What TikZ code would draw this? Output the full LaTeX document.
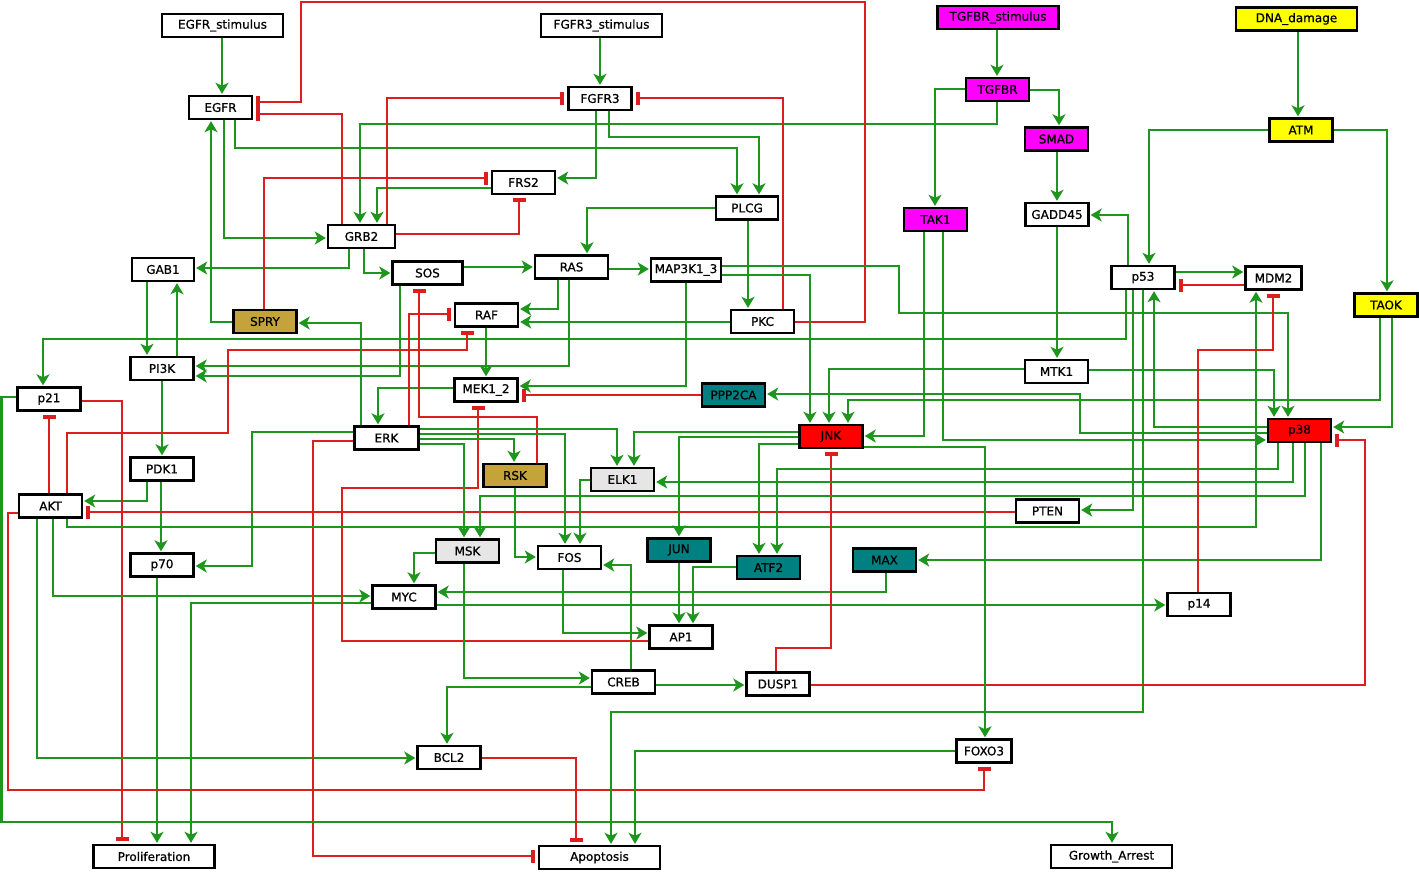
\documentclass[tikz,border=0pt]{standalone}
\usepackage{fontspec}
\setmainfont{DejaVu Sans}
\newfontfamily\nodefont{DejaVu Sans}[FakeBold=0.8]
\usetikzlibrary{arrows.meta}
\definecolor{eg}{RGB}{30,150,30}
\definecolor{er}{RGB}{220,30,30}
\definecolor{mag}{RGB}{255,0,255}
\definecolor{yel}{RGB}{255,255,0}
\definecolor{olv}{RGB}{196,164,58}
\definecolor{tea}{RGB}{0,128,128}
\definecolor{lgr}{RGB}{230,230,230}
\definecolor{rd}{RGB}{255,0,0}
\pgfdeclarelayer{background}
\pgfsetlayers{background,main}
\begin{document}
\begin{tikzpicture}[x=1pt,y=-1pt,
 nd/.style={draw=black,line width=2.4pt,minimum width=63pt,minimum height=23pt,inner sep=0pt,font=\nodefont\fontsize{12}{14}\selectfont,fill=white},
 wide/.style={minimum width=121pt},
 act/.style={draw=eg,line width=2.8pt,-{Stealth[length=11pt,width=13pt,inset=3pt]},shorten >=1pt},
 inh/.style={draw=er,line width=2.8pt,-{Rectangle[length=4pt,width=13pt]},shorten >=3pt},
]
\useasboundingbox (0,0) rectangle (1419,871);

\node[nd,wide] (EGFRs) at (222.5,25.5) {EGFR\_stimulus};
\node[nd,wide] (FGFRs) at (601.5,25.5) {FGFR3\_stimulus};
\node[nd,wide,fill=mag] (TGFBRs) at (998,17.5) {TGFBR\_stimulus};
\node[nd,wide,fill=yel] (DNA) at (1296.5,19) {DNA\_damage};
\node[nd] (EGFR) at (220.5,107.5) {EGFR};
\node[nd] (FGFR) at (600,98.5) {FGFR3};
\node[nd,fill=mag] (TGFBR) at (997.5,89.5) {TGFBR};
\node[nd,fill=yel] (ATM) at (1301,130) {ATM};
\node[nd,fill=mag] (SMAD) at (1056.5,139) {SMAD};
\node[nd] (FRS) at (523.5,182.5) {FRS2};
\node[nd,minimum width=62pt] (PLCG) at (747,208) {PLCG};
\node[nd,fill=mag] (TAK) at (935.5,219.5) {TAK1};
\node[nd] (GADD) at (1057,214.5) {GADD45};
\node[nd,minimum width=67pt] (GRB) at (361.5,236.5) {GRB2};
\node[nd,minimum width=62pt] (GAB) at (163,269.5) {GAB1};
\node[nd,minimum width=70pt] (SOS) at (427.5,273) {SOS};
\node[nd,minimum width=73pt] (RAS) at (571.5,267) {RAS};
\node[nd,minimum width=70pt] (MAPK) at (686,270) {MAP3K1\_3};
\node[nd] (p53) at (1143,277.5) {p53};
\node[nd,minimum width=56pt] (MDM) at (1273.5,278) {MDM2};
\node[nd,fill=yel] (TAOK) at (1386,305) {TAOK};
\node[nd,fill=olv] (SPRY) at (265,321.5) {SPRY};
\node[nd] (RAF) at (486.5,315) {RAF};
\node[nd] (PKC) at (762.5,321.5) {PKC};
\node[nd] (PI3K) at (162,368.5) {PI3K};
\node[nd] (MTK) at (1056.5,371.5) {MTK1};
\node[nd] (MEK) at (486,390) {MEK1\_2};
\node[nd,fill=tea] (PPP) at (733.5,395) {PPP2CA};
\node[nd] (p21) at (49,399) {p21};
\node[nd,fill=rd] (JNK) at (831,436.5) {JNK};
\node[nd,fill=rd] (p38) at (1299.5,430.5) {p38};
\node[nd,minimum width=64pt] (ERK) at (386.5,438) {ERK};
\node[nd] (PDK) at (162,469) {PDK1};
\node[nd,fill=olv] (RSK) at (515,475.5) {RSK};
\node[nd,fill=lgr] (ELK) at (622.5,479.5) {ELK1};
\node[nd] (AKT) at (50.5,506) {AKT};
\node[nd] (PTEN) at (1047.5,511) {PTEN};
\node[nd,fill=lgr] (MSK) at (467.5,551) {MSK};
\node[nd] (FOS) at (569.5,557.5) {FOS};
\node[nd,fill=tea] (JUN) at (679,550) {JUN};
\node[nd,fill=tea] (ATF) at (768.5,567.5) {ATF2};
\node[nd,fill=tea] (MAX) at (884.5,560) {MAX};
\node[nd] (p70) at (162,565) {p70};
\node[nd] (MYC) at (404,597) {MYC};
\node[nd] (p14) at (1199,604.5) {p14};
\node[nd] (AP) at (681,637) {AP1};
\node[nd] (CREB) at (623.5,682) {CREB};
\node[nd] (DUSP) at (778,684) {DUSP1};
\node[nd,minimum width=55pt] (FOXO) at (984,751) {FOXO3};
\node[nd] (BCL) at (449,757.5) {BCL2};
\node[nd,wide] (PROL) at (154,856.5) {Proliferation};
\node[nd,wide] (APOP) at (599.5,857.5) {Apoptosis};
\node[nd,wide] (GA) at (1111.5,856.5) {Growth\_Arrest};

\begin{pgfonlayer}{background}
\fill[white] (0,0) rectangle (1419,871);
% stimuli
\draw[act] (EGFRs.south -| 222,0) -- (EGFR.north -| 222,0);
\draw[act] (FGFRs.south -| 600,0) -- (FGFR.north -| 600,0);
\draw[act] (TGFBRs.south -| 997,0) -- (TGFBR.north -| 997,0);
\draw[act] (DNA.south -| 1298,0) -- (ATM.north -| 1298,0);
% TGFBR
\draw[act] (TGFBR.west |- 0,89) -| (TAK.north -| 935,0);
\draw[act] (TGFBR.east |- 0,90) -| (SMAD.north -| 1059,0);
\draw[act] (SMAD.south -| 1057,0) -- (GADD.north -| 1057,0);
\draw[act] (GADD.south -| 1057,0) -- (MTK.north -| 1057,0);
\draw[act] (TGFBR.south -| 997,0) -- (997,124) -- (360,124) -- (GRB.north -| 360,0);
% receptors
\draw[act] (FGFR.south -| 596,0) |- (FRS.east |- 0,178);
\draw[act] (FGFR.south -| 609,0) |- (759,137) -- (PLCG.north -| 759,0);
\draw[act] (EGFR.south -| 235,0) |- (737,148) -- (PLCG.north -| 737,0);
\draw[act] (EGFR.south -| 224,0) |- (GRB.west |- 0,238);
\draw[act] (FRS.west |- 0,188) -| (GRB.north -| 377,0);
\draw[inh] (GRB.east |- 0,234) -| (FRS.south -| 519,0);
\draw[inh] (GRB.north -| 387,0) |- (FGFR.west |- 0,98);
\draw[inh] (GRB.north -| 342,0) |- (EGFR.east |- 0,114);
\draw[inh] (PKC.east |- 0,322) -- (865,322) -- (865,2) -- (301,2) -- (301,102) -- (EGFR.east |- 0,102);
\draw[inh] (PKC.north -| 783,0) |- (FGFR.east |- 0,98);
\draw[act] (PLCG.south -| 748,0) -- (PKC.north -| 748,0);
\draw[act] (GRB.south -| 364,0) |- (SOS.west |- 0,273);
\draw[act] (SOS.east |- 0,267) -- (RAS.west |- 0,267);
\draw[act] (RAS.east |- 0,269) -- (MAPK.west |- 0,269);
\draw[act] (PLCG.west |- 0,208) -| (RAS.north -| 587,0);
\draw[act] (RAS.south -| 558,0) |- (RAF.east |- 0,309);
\draw[act] (RAS.south -| 569,0) |- (PI3K.east |- 0,366);
\draw[act] (SOS.south -| 400,0) |- (PI3K.east |- 0,376);
\draw[act] (RAF.south -| 486,0) -- (MEK.north -| 486,0);
\draw[act] (MAPK.south -| 686,0) |- (MEK.east |- 0,386);
\draw[act] (PKC.west |- 0,322) -- (RAF.east |- 0,322);
\draw[act] (p53.south -| 1126,0) |- (43,339) -- (p21.north -| 43,0);
\draw[act] (MEK.west |- 0,388) -| (ERK.north -| 378,0);
\draw[act] (PI3K.north -| 177,0) -- (GAB.south -| 177,0);
\draw[act] (GAB.south -| 147,0) -- (PI3K.north -| 147,0);
\draw[act] (GRB.south -| 349,0) |- (GAB.east |- 0,268);
\draw[act] (PI3K.south -| 162,0) -- (PDK.north -| 162,0);
\draw[act] (PDK.south -| 147,0) |- (AKT.east |- 0,501);
\draw[act] (PDK.south -| 161,0) -- (p70.north -| 161,0);
\draw[inh] (AKT.north -| 49,0) -- (p21.south -| 49,0);
\draw[inh] (p21.east |- 0,401) -| (PROL.north -| 122,0);
\draw[act] (p70.south -| 157,0) -- (PROL.north -| 157,0);
\draw[act] (MYC.west |- 0,603) -| (PROL.north -| 191,0);
\draw[act] (AKT.south -| 53,0) |- (MYC.west |- 0,596);
\draw[act] (AKT.south -| 37,0) |- (BCL.west |- 0,758);
\draw[act] (MYC.east |- 0,605) -- (p14.west |- 0,605);
\draw[act] (MAX.south -| 886,0) |- (MYC.east |- 0,592);
\draw[act] (MSK.west |- 0,553) -| (MYC.north -| 414,0);
\draw[act] (CREB.north -| 631,0) |- (FOS.east |- 0,565);
\draw[act] (FOS.south -| 563,0) |- (AP.west |- 0,633);
\draw[inh] (AP.west |- 0,641) -- (342,641) -- (342,488) -- (478,488) -- (MEK.south -| 478,0);
\draw[inh] (RSK.north -| 537,0) |- (419,417) -- (SOS.south -| 419,0);
\draw[inh] (ERK.north -| 409,0) |- (RAF.west |- 0,314);
\draw[inh] (AKT.north -| 67,0) -- (67,433) -- (228,433) -- (228,350) -- (467,350) -- (RAF.south -| 467,0);
\draw[act] (ERK.west |- 0,432) -- (252,432) -- (252,566) -- (p70.east |- 0,566);
\draw[act] (ERK.north -| 361,0) |- (SPRY.east |- 0,323);
\draw[act] (SPRY.west |- 0,322) -| (EGFR.south -| 211,0);
\draw[inh] (SPRY.north -| 264,0) |- (FRS.west |- 0,178);
\draw[inh] (ERK.west |- 0,441) -- (313,441) -- (313,856) -- (APOP.west |- 0,856);
\draw[inh] (PTEN.west |- 0,512) -- (AKT.east |- 0,512);
\draw[act] (AKT.south -| 67,0) |- (1256,527) -- (MDM.south -| 1256,0);
\draw[inh] (AKT.west |- 0,513) -- (8,513) -- (8,790) -- (984,790) -- (FOXO.south -| 984,0);
\draw[act] (p21.west |- 0,397) -- (1.5,397) -- (1.5,822) -- (1112,822) -- (GA.north -| 1112,0);
\draw[inh] (BCL.east |- 0,758) -| (APOP.north -| 576,0);
\draw[act] (p53.south -| 1143,0) |- (611,712) -- (APOP.north -| 611,0);
\draw[act] (FOXO.west |- 0,751) -| (APOP.north -| 635,0);
\draw[act] (MSK.south -| 464,0) |- (CREB.west |- 0,678);
\draw[act] (CREB.west |- 0,687) -| (BCL.north -| 447,0);
\draw[act] (CREB.east |- 0,685) -- (DUSP.west |- 0,685);
\draw[inh] (DUSP.north -| 776,0) |- (831,648) -- (JNK.south -| 831,0);
\draw[inh] (DUSP.east |- 0,685) -- (1365,685) -- (1365,440) -- (p38.east |- 0,440);
\draw[act] (JNK.east |- 0,447) -| (FOXO.north -| 985,0);
\draw[act] (JNK.west |- 0,444) -| (ATF.north -| 759,0);
\draw[act] (p38.south -| 1278,0) |- (777,469) -- (ATF.north -| 777,0);
\draw[act] (p38.south -| 1293,0) |- (ELK.east |- 0,482);
\draw[act] (p38.south -| 1305,0) |- (480,496) -- (MSK.north -| 480,0);
\draw[act] (p38.south -| 1321,0) |- (MAX.east |- 0,560);
\draw[act] (ERK.east |- 0,429) -| (ELK.north -| 617,0);
\draw[act] (ERK.east |- 0,434) -| (FOS.north -| 565,0);
\draw[act] (ERK.east |- 0,439) -| (RSK.north -| 514,0);
\draw[act] (ERK.east |- 0,444) -| (MSK.north -| 464,0);
\draw[act] (ELK.west |- 0,480) -| (FOS.north -| 580,0);
\draw[act] (JNK.west |- 0,437) -| (JUN.north -| 679,0);
\draw[act] (JNK.west |- 0,432) -| (ELK.north -| 634,0);
\draw[act] (JUN.south -| 679,0) -- (AP.north -| 679,0);
\draw[act] (ATF.west |- 0,567) -| (AP.north -| 693,0);
\draw[act] (RSK.south -| 515,0) |- (FOS.west |- 0,557);
\draw[act] (TAK.south -| 924,0) |- (JNK.east |- 0,436);
\draw[act] (TAK.south -| 943,0) |- (p38.west |- 0,440);
\draw[act] (p38.west |- 0,427) -| (p53.south -| 1154,0);
\draw[act] (p38.west |- 0,433) -- (1080,433) -- (1080,394) -- (PPP.east |- 0,394);
\draw[inh] (PPP.west |- 0,395) -- (MEK.east |- 0,395);
\draw[act] (MAPK.east |- 0,275) -| (JNK.north -| 810,0);
\draw[act] (MAPK.east |- 0,266) -- (899,266) -- (899,313) -- (1288,313) -- (p38.north -| 1288,0);
\draw[act] (MTK.west |- 0,369) -| (JNK.north -| 829,0);
\draw[act] (TAOK.south -| 1380,0) |- (848,400) -- (JNK.north -| 848,0);
\draw[act] (TAOK.south -| 1392,0) |- (p38.east |- 0,427);
\draw[act] (ATM.east |- 0,130) -| (TAOK.north -| 1387,0);
\draw[act] (ATM.west |- 0,130) -| (p53.north -| 1149,0);
\draw[act] (MTK.east |- 0,370) -| (p38.north -| 1274,0);
\draw[act] (p53.east |- 0,272) -- (MDM.west |- 0,272);
\draw[inh] (MDM.west |- 0,285) -- (p53.east |- 0,285);
\draw[act] (p53.north -| 1128,0) |- (GADD.east |- 0,215);
\draw[inh] (p14.north -| 1198,0) |- (1273,350) -- (MDM.south -| 1273,0);
\draw[act] (p53.south -| 1133,0) |- (PTEN.east |- 0,510);
\end{pgfonlayer}
\end{tikzpicture}
\end{document}
